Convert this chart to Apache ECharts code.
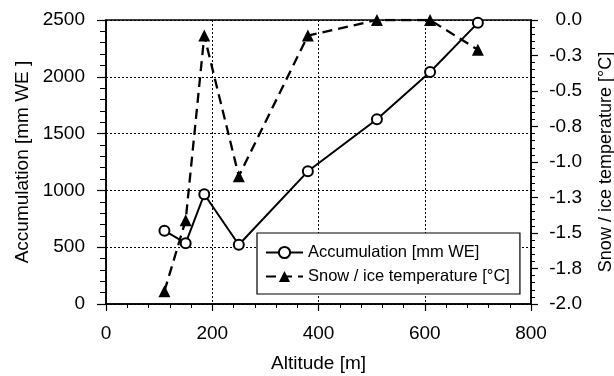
<!DOCTYPE html>
<html><head><meta charset="utf-8">
<script src="https://cdn.jsdelivr.net/npm/echarts@6/dist/echarts.min.js"></script>
<style>html,body{margin:0;padding:0;background:#fff}#c{width:614px;height:376px}</style>
</head><body><div id="c"></div>
<script>
const altitude = [110, 150, 185, 250, 380, 510, 610, 700];
const accumulation = [645, 535, 966, 522, 1168, 1626, 2042, 2475];
const temperature = [-1.91, -1.41, -0.11, -1.10, -0.11, 0.0, 0.0, -0.21];
const names = ['Accumulation [mm WE]', 'Snow / ice temperature [°C]'];

const F = 'Liberation Sans, Arial, sans-serif';
const chart = echarts.init(document.getElementById('c'), null, {renderer: 'canvas'});
chart.setOption({
  animation: false,
  backgroundColor: '#fff',
  grid: {left: 106, right: 83, top: 20, bottom: 72, outerBoundsMode: 'none', containLabel: false,
    show: true, borderColor: '#000', borderWidth: 1.5, backgroundColor: 'transparent'},
  legend: {
    left: 257, top: 233, orient: 'vertical',
    backgroundColor: '#fff', borderColor: '#000', borderWidth: 1.2,
    padding: [11, 10, 9, 8], itemWidth: 37, itemHeight: 14, itemGap: 7,
    textStyle: {fontFamily: F, fontSize: 16.5, color: '#000'},
    data: names
  },
  xAxis: {
    type: 'value', min: 0, max: 800, interval: 200,
    name: 'Altitude [m]', nameLocation: 'middle', nameGap: 50,
    nameTextStyle: {fontFamily: F, fontSize: 19, color: '#000'},
    axisLine: {lineStyle: {color: '#000', width: 1.5}},
    axisTick: {length: 7, lineStyle: {color: '#000', width: 1.2}},
    minorTick: {show: true, splitNumber: 5, length: 4, lineStyle: {color: '#000', width: 1}},
    axisLabel: {fontFamily: F, fontSize: 19, color: '#000', margin: 20},
    splitLine: {show: true, lineStyle: {color: '#000', type: [2, 2], width: 1}}
  },
  yAxis: [{
    type: 'value', min: 0, max: 2500, interval: 500,
    name: 'Accumulation [mm WE ]', nameLocation: 'middle', nameGap: 73, nameRotate: 90,
    nameTextStyle: {fontFamily: F, fontSize: 19, color: '#000'},
    axisLine: {show: true, lineStyle: {color: '#000', width: 1.5}},
    axisTick: {show: true, length: 9, lineStyle: {color: '#000', width: 1.2}},
    minorTick: {show: true, splitNumber: 5, length: 6, lineStyle: {color: '#000', width: 1}},
    axisLabel: {fontFamily: F, fontSize: 19, color: '#000', margin: 21, formatter: v => String(v)},
    splitLine: {show: true, lineStyle: {color: '#000', type: [2, 2], width: 1}}
  }, {
    type: 'value', min: -2, max: 0, interval: 0.25, position: 'right',
    name: 'Snow / ice temperature [°C]', nameLocation: 'middle', nameGap: 66, nameRotate: 90,
    nameTextStyle: {fontFamily: F, fontSize: 18, color: '#000'},
    axisLine: {show: true, lineStyle: {color: '#000', width: 1.5}},
    axisTick: {show: true, length: 7, lineStyle: {color: '#000', width: 1.2}},
    minorTick: {show: true, splitNumber: 5, length: 4, lineStyle: {color: '#000', width: 1}},
    axisLabel: {fontFamily: F, fontSize: 19, color: '#000', margin: 51, align: 'right',
      formatter: v => v.toFixed(1)},
    splitLine: {show: false}
  }],
  series: [{
    name: names[0], type: 'line', yAxisIndex: 0,
    data: altitude.map((a, i) => [a, accumulation[i]]),
    symbol: 'circle', symbolSize: 10,
    lineStyle: {color: '#000', width: 2},
    itemStyle: {color: '#fff', borderColor: '#000', borderWidth: 2},
    z: 3
  }, {
    name: names[1], type: 'line', yAxisIndex: 1,
    data: altitude.map((a, i) => [a, temperature[i]]),
    symbol: 'triangle', symbolSize: 12,
    lineStyle: {color: '#000', width: 2.3, type: [10, 6]},
    itemStyle: {color: '#000'},
    z: 2
  }]
});
</script></body></html>
